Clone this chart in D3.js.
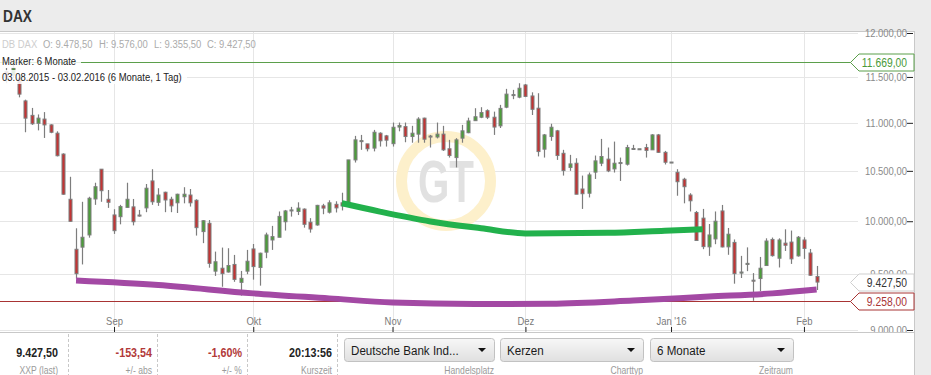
<!DOCTYPE html>
<html>
<head>
<meta charset="utf-8">
<title>DAX 6 Monate</title>
<script src="https://d3js.org/d3.v7.min.js"></script>
<style>
  body { margin: 0; overflow: hidden; background: #fff; font-family: "Liberation Sans", Arial, sans-serif; }
</style>
</head>
<body>
<script>
// weekdays shown on the chart (DB indication quotes every weekday)
var firstDay = "2015-08-07", lastDay = "2016-02-03";

// daily candles, one value per weekday
var opens = [11560,11520,11480,11236,11080,10995,11040,10978,10890,10672,10215,
  9732,9752,9868,10218,10517,10215,10061,10044,10135,10140,10060,10130,10398,10185,10285,
  10215,10180,10240,10257,10205,9900,9980,9528,9555,9520,9590,9425,9528,
  9735,9562,9705,9820,9846,9995,10100,10095,10118,9990,9964,10150,10088,
  10165,10180,10180,10612,10805,10778,10734,10890,10862,
  10780,10955,10960,10855,10880,11050,10860,10850,10880,10727,10636,10838,10895,11023,11060,11130,11060,10968,11168,11300,11277,
  11411,11290,11157,10723,10855,10915,10680,10535,10578,10317,10275,10487,10578,10620,10520,10578,10568,10725,10727,10740,10716,10872,10690,
  10590,10485,10415,10257,10085,10030,9755,9830,10100,9755,9797,9510,9590,9445,9460,9580,9825,9648,9790,9800,9670,
  9820,9697,9478.5];
var highs = [11600,11669,11500,11250,11160,11090,11115,10985,10910,10680,10440,
  9932,10190,10240,10380,10517,10307,10117,10160,10380,10218,10110,10367,10517,10325,10290,
  10240,10270,10335,10317,10215,10012,10012,9710,9748,9742,9679,9530,9726,
  9782,9700,9890,9955,10095,10110,10140,10185,10125,10030,10160,10170,10205,
  10195,10280,10612,10862,10872,10778,10925,10900,10872,
  11003,11003,11003,10968,11060,11055,10872,11003,10968,10820,10838,10978,11055,11157,11168,11145,11120,11193,11368,11357,11430,
  11422,11330,11320,10882,10990,10925,10716,10664,10629,10452,10483,10657,10830,10740,10802,10636,10768,10768,10727,10778,10880,10882,10705,
  10590,10517,10430,10275,10100,10120,9973,10095,10159,9935,9825,9670,9750,9510,9660,9836,9843,9836,9922,9910,9858,
  9846,9735,9576];
var lows = [11430,11490,11275,10900,10978,10920,10840,10890,10648,10260,9995,
  9460,9590,9842,10160,10190,10130,9878,9970,10130,9960,10045,10088,10160,10150,10088,
  10088,10080,10175,10143,9862,9790,9560,9484,9385,9515,9430,9305,9500,
  9450,9395,9648,9726,9846,9910,10045,10060,9938,9890,9957,10068,10075,
  10085,10105,10160,10585,10716,10700,10700,10750,10750,
  10750,10910,10795,10790,10790,10790,10740,10835,10705,10636,10535,10790,10890,11020,11050,11040,10872,10945,11157,11255,11265,
  11277,11084,10648,10636,10810,10612,10452,10500,10265,10120,10233,10418,10548,10487,10483,10398,10554,10716,10727,10636,10716,10684,10565,
  10590,10250,10175,10095,9812,9733,9670,9780,9750,9680,9413,9465,9528,9258,9345,9580,9663,9562,9716,9595,9663,
  9642,9484,9355.5];
var closes = [11490,11600,11310,11050,10990,11050,10978,10900,10655,10265,9999,
  9505,9846,10225,10340,10300,10185,9909,10143,10215,9995,10055,10325,10190,10257,10208,
  10150,10265,10265,10180,9938,10005,9600,9615,9505,9580,9452,9462,9620,
  9570,9695,9868,9852,10047,10100,10110,10128,9970,9925,10155,10128,10180,
  10130,10150,10612,10820,10812,10727,10900,10810,10817,
  10953,10972,10855,10890,11040,10827,10850,10880,10716,10657,10820,10915,11020,11065,11110,11060,10955,11155,11310,11305,11375,
  11285,11145,10698,10872,10953,10657,10503,10571,10265,10270,10459,10602,10647,10500,10578,10585,10740,10730,10727,10710,10872,10690,10588,
  10590,10390,10340,10200,9815,9757,9868,10000,9754,9875,9505,9520,9600,9440,9555,9810,9672,9820,9770,9642,9846,
  9740,9490,9427.5];

var yTicks = [9000, 9500, 10000, 10500, 11000, 11500, 12000];
var monthDays = ["2015-09-01", "2015-10-01", "2015-11-02", "2015-12-01", "2016-01-01", "2016-02-01"];
var monthLabels = ["Sep", "Okt", "Nov", "Dez", "Jan '16", "Feb"];

// hand drawn curves on the chart: [day, price]
var greenCurve = [["2015-10-21",10176],["2015-10-29",10094],["2015-11-10",9998],["2015-11-20",9932],
  ["2015-12-01",9883],["2015-12-18",9888],["2015-12-31",9908],["2016-01-08",9922]];
var purpleCurve = [["2015-08-24",9442],["2015-09-10",9401],["2015-10-01",9325],["2015-10-19",9280],
  ["2015-11-02",9243],["2015-11-19",9230],["2015-12-07",9232],["2015-12-24",9260],
  ["2016-01-11",9296],["2016-01-25",9325],["2016-02-03",9360]];

var periodHigh = 11669, periodLow = 9258, lastPrice = 9427.5;

var footValues = ["9.427,50", "-153,54", "-1,60%", "20:13:56"];
var footLabels = ["XXP (last)", "+/- abs", "+/- %", "Kurszeit"];
var selectTexts = ["Deutsche Bank Ind...", "Kerzen", "6 Monate"];
var selectLabels = ["Handelsplatz", "Charttyp", "Zeitraum"];

// ---------------------------------------------------------------
var W = 931, H = 375;
var plotRight = 914, plotTop = 32, plotBottom = 332;
var sx = 0.86; // text in the original is narrow

var parse = d3.timeParse("%Y-%m-%d"), fmtDay = d3.timeFormat("%Y-%m-%d");
var days = d3.timeDay.range(parse(firstDay), d3.timeDay.offset(parse(lastDay), 1))
  .filter(function(d) { return d.getDay() % 6 !== 0; });
var dayIndex = new Map(days.map(function(d, i) { return [fmtDay(d), i]; }));

var candles = days.map(function(d, i) {
  return { i: i, o: opens[i], h: highs[i], l: lows[i], c: closes[i] };
});

var de = d3.formatLocale({ decimal: ",", thousands: ".", grouping: [3], currency: ["", "€"] });
var priceFmt = de.format(",.2f");

var x = d3.scaleLinear().domain([0, days.length - 1]).range([6.4, 816.6]);
var y = d3.scaleLog().domain([9000, 12000]).range([330, 33]);

var svg = d3.select("body").append("svg")
  .attr("width", W).attr("height", H)
  .style("font-family", '"Liberation Sans", Arial, sans-serif');

function label(g, px, py, s, size, color, anchor, weight) {
  return g.append("text")
    .attr("transform", "translate(" + px + "," + py + ") scale(" + sx + ",1)")
    .attr("text-anchor", anchor || "start")
    .style("font-size", size + "px")
    .style("font-weight", weight || "normal")
    .attr("fill", color)
    .text(s);
}

// background pieces
svg.append("rect").attr("width", W).attr("height", H).attr("fill", "#fff");
svg.append("rect").attr("width", W).attr("height", plotTop).attr("fill", "#ececec");
svg.append("rect").attr("x", plotRight + 1).attr("width", W - plotRight - 1).attr("height", H).attr("fill", "#ececec");
svg.append("line").attr("x1", 0).attr("x2", plotRight + 1).attr("y1", 31.5).attr("y2", 31.5).attr("stroke", "#c8c8c8");
svg.append("line").attr("x1", plotRight + 0.5).attr("x2", plotRight + 0.5).attr("y1", 31).attr("y2", H).attr("stroke", "#c8c8c8");
label(svg, 3, 22, "DAX", 16, "#333", "start", "bold");

svg.append("clipPath").attr("id", "plotclip")
  .append("rect").attr("x", 0).attr("y", plotTop).attr("width", plotRight).attr("height", plotBottom - plotTop);
var plot = svg.append("g").attr("clip-path", "url(#plotclip)");

// grid
plot.selectAll(".hgrid").data(yTicks).enter().append("line")
  .attr("x1", 0).attr("x2", 858)
  .attr("y1", function(d) { return Math.round(y(d)) + 0.5; })
  .attr("y2", function(d) { return Math.round(y(d)) + 0.5; })
  .attr("stroke", "#e6e6e6");
plot.selectAll(".vgrid").data(monthDays).enter().append("line")
  .attr("x1", function(d) { return Math.round(x(dayIndex.get(d))) + 0.5; })
  .attr("x2", function(d) { return Math.round(x(dayIndex.get(d))) + 0.5; })
  .attr("y1", plotTop).attr("y2", plotBottom)
  .attr("stroke", "#e6e6e6");

// watermark
var wm = plot.append("g").attr("transform", "translate(446,181)");
wm.append("circle").attr("r", 44.5).attr("fill", "none").attr("stroke", "#fdf0cb").attr("stroke-width", 11);
wm.append("text").attr("y", 21).attr("text-anchor", "middle")
  .attr("textLength", 56).attr("lengthAdjust", "spacingAndGlyphs")
  .style("font-size", "60px").style("font-weight", "bold").attr("fill", "#e1e1e1").text("GT");

// high / low marker lines
plot.append("line").attr("x1", 0).attr("x2", 851)
  .attr("y1", Math.round(y(periodHigh)) + 0.5).attr("y2", Math.round(y(periodHigh)) + 0.5)
  .attr("stroke", "#5b9f4b");
plot.append("line").attr("x1", 0).attr("x2", 851)
  .attr("y1", Math.round(y(periodLow)) + 0.5).attr("y2", Math.round(y(periodLow)) + 0.5)
  .attr("stroke", "#a83434");

// candles
var cg = plot.selectAll(".candle").data(candles).enter().append("g").attr("class", "candle");
cg.append("line")
  .attr("x1", function(d) { return Math.round(x(d.i)) + 0.5; })
  .attr("x2", function(d) { return Math.round(x(d.i)) + 0.5; })
  .attr("y1", function(d) { return y(d.h); })
  .attr("y2", function(d) { return y(d.l); })
  .attr("stroke", "#7d7d7d").attr("stroke-width", 1.2);
cg.append("rect")
  .attr("x", function(d) { return Math.round(x(d.i)) - 1; })
  .attr("width", 3)
  .attr("y", function(d) { return Math.min(y(d.o), y(d.c)); })
  .attr("height", function(d) { return Math.max(1, Math.abs(y(d.o) - y(d.c))); })
  .attr("fill", function(d) { return d.c >= d.o ? "#4c9e3a" : "#c43434"; })
  .attr("stroke", "#7d7d7d").attr("stroke-width", 1);

// drawn curves
var curve = d3.line()
  .x(function(d) { return x(dayIndex.get(d[0])); })
  .y(function(d) { return y(d[1]); })
  .curve(d3.curveMonotoneX);
plot.append("path").attr("d", curve(purpleCurve)).attr("fill", "none")
  .attr("stroke", "#a349a4").attr("stroke-width", 6);
plot.append("path").attr("d", curve(greenCurve)).attr("fill", "none")
  .attr("stroke", "#22b14c").attr("stroke-width", 6);

// info texts over the plot
var info = svg.append("g");
info.append("rect").attr("x", 0).attr("y", 55).attr("width", 81).attr("height", 13).attr("fill", "#fff").attr("opacity", 0.85);
info.append("rect").attr("x", 0).attr("y", 70).attr("width", 187).attr("height", 14).attr("fill", "#fff").attr("opacity", 0.85);
label(info, 2, 47.5, "DB DAX", 11, "#cdcdcd");
label(info, 43, 47.5, "O: 9.478,50", 11, "#ababab");
label(info, 99, 47.5, "H: 9.576,00", 11, "#ababab");
label(info, 154, 47.5, "L: 9.355,50", 11, "#ababab");
label(info, 207, 47.5, "C: 9.427,50", 11, "#ababab");
label(info, 2, 65, "Marker: 6 Monate", 11, "#222");
label(info, 2, 81, "03.08.2015 - 03.02.2016 (6 Monate, 1 Tag)", 11, "#222");

// y axis on the right
var yAxis = svg.append("g").attr("transform", "translate(913,0)")
  .call(d3.axisLeft(y).tickValues(yTicks).tickSize(6).tickPadding(1).tickFormat(priceFmt));
yAxis.select(".domain").remove();
yAxis.selectAll("line").attr("stroke", "#222");
yAxis.selectAll("text").attr("fill", "#8a8a8a").style("font-size", "11px")
  .style("font-family", '"Liberation Sans", Arial, sans-serif')
  .attr("transform", "scale(" + sx + ",1)");
svg.append("rect").attr("x", 0).attr("y", plotBottom + 1).attr("width", plotRight).attr("height", 10).attr("fill", "#fff");

// price tags
function priceTag(v, stroke, color) {
  var yc = Math.round(y(v)) + 0.5;
  var g = svg.append("g");
  g.append("path")
    .attr("d", "M850.5," + yc + "L859," + (yc - 8.5) + "L914," + (yc - 8.5) + "L914," + (yc + 8.5) + "L859," + (yc + 8.5) + "Z")
    .attr("fill", "#fff").attr("stroke", stroke);
  label(g, 907, yc + 4, priceFmt(v), 12, color, "end");
}
priceTag(periodHigh, "#5b9f4b", "#4a9a3a");
priceTag(lastPrice, "#cfcfcf", "#333");
priceTag(periodLow, "#a83434", "#a83434");

// x axis
var xAxis = svg.append("g").attr("transform", "translate(0," + plotBottom + ")")
  .call(d3.axisTop(x)
    .tickValues(monthDays.map(function(d) { return dayIndex.get(d); }))
    .tickSize(5).tickPadding(2)
    .tickFormat(function(d, i) { return monthLabels[i]; }));
xAxis.select(".domain").remove();
xAxis.selectAll("line").attr("stroke", "#222");
xAxis.selectAll("text").attr("fill", "#7a7a7a").style("font-size", "11px")
  .style("font-family", '"Liberation Sans", Arial, sans-serif')
  .attr("transform", "scale(" + sx + ",1)");
svg.append("line").attr("x1", 0).attr("x2", plotRight).attr("y1", plotBottom + 0.5).attr("y2", plotBottom + 0.5).attr("stroke", "#c8c8c8");

// footer
var foot = svg.append("g");
var footRight = [58, 152, 242, 332], sepX = [68, 157, 247, 337];
footValues.forEach(function(v, i) {
  label(foot, footRight[i], 357, v, 12.5, v.charAt(0) === "-" ? "#b23a3a" : "#222", "end", "bold");
  label(foot, footRight[i], 374, footLabels[i], 10, "#9a9a9a", "end");
  foot.append("line").attr("x1", sepX[i] + 0.5).attr("x2", sepX[i] + 0.5).attr("y1", 334).attr("y2", H)
    .attr("stroke", "#c8c8c8").attr("stroke-dasharray", "3,2");
});

var grad = svg.append("defs").append("linearGradient").attr("id", "btn").attr("x1", 0).attr("x2", 0).attr("y1", 0).attr("y2", 1);
grad.append("stop").attr("offset", "0%").attr("stop-color", "#f7f7f7");
grad.append("stop").attr("offset", "100%").attr("stop-color", "#e0e0e0");

var boxX = [344, 500, 650], boxW = [150, 143, 143];
selectTexts.forEach(function(s, i) {
  foot.append("rect").attr("x", boxX[i] + 0.5).attr("y", 338.5).attr("width", boxW[i]).attr("height", 23)
    .attr("rx", 3).attr("fill", "url(#btn)").attr("stroke", "#c2c2c2");
  label(foot, boxX[i] + 7, 355, s, 13.5, "#1a1a1a");
  var ax = boxX[i] + boxW[i] - 12;
  foot.append("path").attr("d", "M" + (ax - 4) + ",348L" + (ax + 4) + ",348L" + ax + ",352Z").attr("fill", "#111");
  label(foot, boxX[i] + boxW[i], 374, selectLabels[i], 10, "#9a9a9a", "end");
});
</script>
</body>
</html>
